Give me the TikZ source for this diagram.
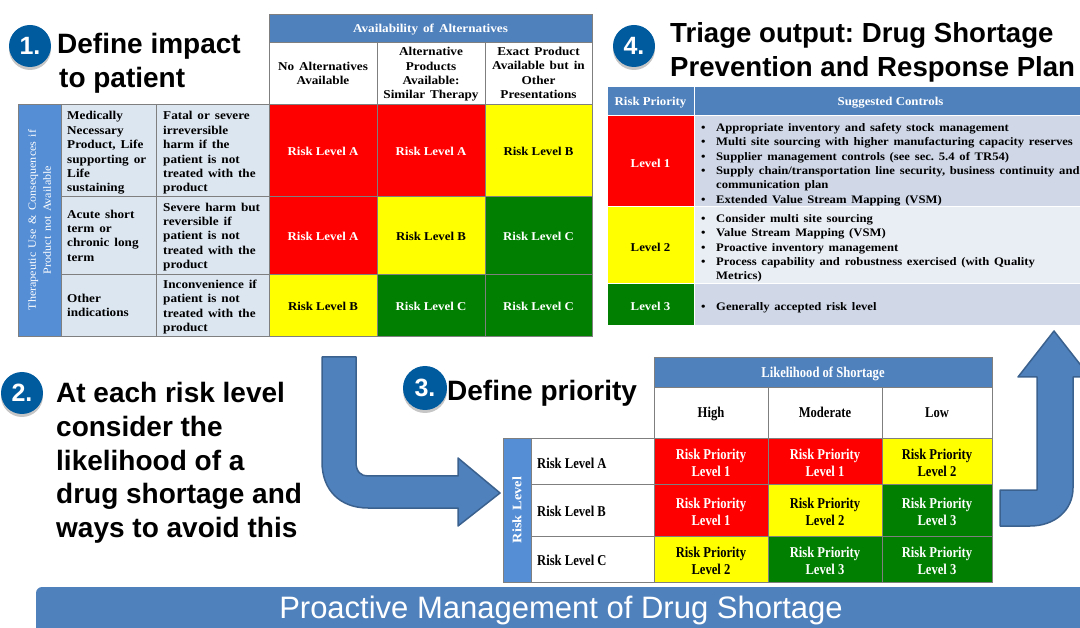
\documentclass[tikz,border=0pt]{standalone}
\usepackage{fontspec}
\setmainfont[WordSpace=1.5,FakeStretch=1.1]{Liberation Serif}
\setsansfont{Liberation Sans}
\newfontfamily\narrowserif[FakeStretch=0.84]{Liberation Serif}
\newfontfamily\tightserif[FakeStretch=1.07]{Liberation Serif}
\usetikzlibrary{shadows}
\frenchspacing

\definecolor{headblue}{HTML}{4F81BD}
\definecolor{sideblue}{HTML}{558ED5}
\definecolor{paleblue}{HTML}{DCE6F1}
\definecolor{rowdark}{HTML}{D0D8E8}
\definecolor{rowlight}{HTML}{E9EDF4}
\definecolor{riskred}{HTML}{FF0000}
\definecolor{riskyellow}{HTML}{FFFF00}
\definecolor{riskgreen}{HTML}{007F00}
\definecolor{badgeblue}{HTML}{005A9E}
\definecolor{gridgray}{HTML}{7F7F7F}

\newcommand{\bul}{\makebox[15pt][l]{\textbullet}}
\newcommand{\ind}{\hspace*{15pt}}

\tikzset{
  cellfont/.style={font=\fontsize{12}{14.4}\selectfont\bfseries, align=center, nodes={yshift=-1.5pt}},
  tightfont/.style={font=\fontsize{12}{14.4}\selectfont\tightserif\bfseries},
  gridcell/.style={draw=gridgray, line width=.8pt, cellfont},
  redcell/.style={gridcell, tightfont, fill=riskred, text=white},
  yellowcell/.style={gridcell, tightfont, fill=riskyellow, text=black},
  greencell/.style={gridcell, tightfont, fill=riskgreen, text=white},
  blankcell/.style={gridcell, fill=white},
  palecell/.style={gridcell, fill=paleblue},
  headcell/.style={gridcell, fill=headblue, text=white},
  sidecell/.style={gridcell, fill=sideblue, text=white},
  lefttext/.style={anchor=west, align=left, font=\fontsize{12}{14.4}\selectfont\bfseries, inner sep=0pt},
  ctrltext/.style={lefttext, font=\fontsize{11.5}{14.3}\selectfont\bfseries},
  plaincell/.style={draw=white, line width=1pt, cellfont, tightfont},
  narrowcell/.style={font=\fontsize{15}{17}\selectfont\narrowserif\bfseries},
  badge/.style={circle, fill=badgeblue, minimum size=42pt, inner sep=0pt, text=white,
    font=\fontsize{25}{25}\selectfont\sffamily\bfseries, drop shadow={shadow xshift=0pt, shadow yshift=-3pt, opacity=.45}},
  titletext/.style={anchor=west, align=left, inner sep=0pt, text=black,
    font=\fontsize{28}{33.7}\selectfont\sffamily\bfseries},
  blockarrow/.style={fill=headblue, draw=headblue!75!black, line width=1.5pt, line join=round}
}

\begin{document}
\begin{tikzpicture}[x=1pt,y=-1pt]

  \clip (0,0) rectangle (1080,628);

  % block arrows
  \draw[blockarrow](322,357)--(356,357)--(356,462) .. controls (356,472) and (361,476) .. (368,476)
    --(458,476)--(458,458)--(500,493)--(458,526)--(458,508)--(368,508)
    .. controls (340,508) and (322,490) .. (322,462)--cycle;
  \draw[blockarrow](1000,490)--(1037,490)--(1037,377)--(1018,377)--(1054,331)--(1090,377)--(1073,377)--(1073,488)
    .. controls (1073,510) and (1055,526) .. (1030,526)--(1000,526)--cycle;

  % banner
  \fill[headblue,rounded corners=6pt](36,587)--(1100,587)--(1100,640)--(36,640)--cycle;
  \node[text=white,font=\fontsize{31}{34}\selectfont\sffamily] (banner) at (561,610) {Proactive Management of Drug Shortage};

  % step 1
  \node[badge] (badgea) at (30,46) {1.};
  \node[titletext] (titlea) at (57,63) {Define impact\\\hspace*{2pt}to patient};

  \draw[headcell](269,14) rectangle node (availhead) {Availability of Alternatives} (592,42);
  \draw[blankcell](269,42) rectangle node[yshift=1pt] (availa) {No Alternatives\\Available} (377,104);
  \draw[blankcell](377,42) rectangle node (availb) {Alternative\\Products\\Available:\\Similar Therapy} (485,104);
  \draw[blankcell](485,42) rectangle node[yshift=1.5pt] (availc) {Exact Product\\Available but in\\Other\\Presentations} (592,104);

  \draw[sidecell](18,104) rectangle node[rotate=90,font=\fontsize{11}{15}\selectfont,xshift=1.5pt] (useside) {Therapeutic Use \& Consequences if\\Product not Available} (61,336);

  \draw[palecell](61,104) rectangle (156,196);
  \draw[palecell](61,196) rectangle (156,274);
  \draw[palecell](61,274) rectangle (156,336);
  \draw[palecell](156,104) rectangle (269,196);
  \draw[palecell](156,196) rectangle (269,274);
  \draw[palecell](156,274) rectangle (269,336);

  \node[lefttext] (usea) at (67,153) {Medically\\Necessary\\Product, Life\\supporting or\\Life\\sustaining};
  \node[lefttext] (useb) at (67,235.5) {Acute short\\term or\\chronic long\\term};
  \node[lefttext] (usec) at (67,305.5) {Other\\indications};
  \node[lefttext] (harma) at (163,153) {Fatal or severe\\irreversible\\harm if the\\patient is not\\treated with the\\product};
  \node[lefttext] (harmb) at (163,237) {Severe harm but\\reversible if\\patient is not\\treated with the\\product};
  \node[lefttext] (harmc) at (163,307) {Inconvenience if\\patient is not\\treated with the\\product};

  \draw[redcell](269,104) rectangle node (riskaa) {Risk Level A} (377,196);
  \draw[redcell](377,104) rectangle node (riskab) {Risk Level A} (485,196);
  \draw[yellowcell](485,104) rectangle node (riskac) {Risk Level B} (592,196);
  \draw[redcell](269,196) rectangle node (riskba) {Risk Level A} (377,274);
  \draw[yellowcell](377,196) rectangle node (riskbb) {Risk Level B} (485,274);
  \draw[greencell](485,196) rectangle node (riskbc) {Risk Level C} (592,274);
  \draw[yellowcell](269,274) rectangle node (riskca) {Risk Level B} (377,336);
  \draw[greencell](377,274) rectangle node (riskcb) {Risk Level C} (485,336);
  \draw[greencell](485,274) rectangle node (riskcc) {Risk Level C} (592,336);

  % step 2
  \node[badge] (badgeb) at (22,393) {2.};
  \node[titletext] (titleb) at (56,463) {At each risk level\\consider the\\likelihood of a\\drug shortage and\\ways to avoid this};

  % step 3
  \node[badge,minimum size=44pt] (badgec) at (425,388) {3.};
  \node[titletext] (titlec) at (447,393) {Define priority};

  \draw[headcell,narrowcell](654,357) rectangle node (likehead) {Likelihood of Shortage} (992,387);
  \draw[blankcell,narrowcell](654,387) rectangle node (likea) {\strut High} (768,438);
  \draw[blankcell,narrowcell](768,387) rectangle node (likeb) {\strut Moderate} (882,438);
  \draw[blankcell,narrowcell](882,387) rectangle node (likec) {\strut Low} (992,438);

  \draw[sidecell](503,438) rectangle node[rotate=90,font=\fontsize{13}{14}\selectfont\bfseries,xshift=1.5pt] (levelside) {Risk Level} (531,582);
  \draw[blankcell](531,438) rectangle (654,484);
  \draw[blankcell](531,484) rectangle (654,536);
  \draw[blankcell](531,536) rectangle (654,582);
  \node[lefttext,narrowcell] (levela) at (537,463) {Risk Level A};
  \node[lefttext,narrowcell] (levelb) at (537,511) {Risk Level B};
  \node[lefttext,narrowcell] (levelc) at (537,560) {Risk Level C};

  \draw[redcell,narrowcell](654,438) rectangle node (prioaa) {Risk Priority\\Level 1} (768,484);
  \draw[redcell,narrowcell](768,438) rectangle node (prioab) {Risk Priority\\Level 1} (882,484);
  \draw[yellowcell,narrowcell](882,438) rectangle node (prioac) {Risk Priority\\Level 2} (992,484);
  \draw[redcell,narrowcell](654,484) rectangle node (prioba) {Risk Priority\\Level 1} (768,536);
  \draw[yellowcell,narrowcell](768,484) rectangle node (priobb) {Risk Priority\\Level 2} (882,536);
  \draw[greencell,narrowcell](882,484) rectangle node (priobc) {Risk Priority\\Level 3} (992,536);
  \draw[yellowcell,narrowcell](654,536) rectangle node (prioca) {Risk Priority\\Level 2} (768,582);
  \draw[greencell,narrowcell](768,536) rectangle node (priocb) {Risk Priority\\Level 3} (882,582);
  \draw[greencell,narrowcell](882,536) rectangle node (priocc) {Risk Priority\\Level 3} (992,582);

  % step 4
  \node[badge] (badged) at (634,46) {4.};
  \node[titletext,font=\fontsize{27.6}{33.7}\selectfont\sffamily\bfseries] (titled) at (670,52.5) {Triage output: Drug Shortage\\Prevention and Response Plan};

  \draw[plaincell,fill=headblue,text=white](607,87) rectangle node (priohead) {Risk Priority} (694,116);
  \draw[plaincell,fill=headblue,text=white](694,87) rectangle node[xshift=-4pt] (ctrlhead) {Suggested Controls} (1095,116);
  \draw[plaincell,fill=riskred,text=white](607,116) rectangle node (planl) {Level 1} (694,207);
  \draw[plaincell,fill=riskyellow](607,207) rectangle node (planm) {Level 2} (694,284);
  \draw[plaincell,fill=riskgreen,text=white](607,284) rectangle node (plann) {Level 3} (694,326);
  \draw[plaincell,fill=rowdark](694,116) rectangle (1095,207);
  \draw[plaincell,fill=rowlight](694,207) rectangle (1095,284);
  \draw[plaincell,fill=rowdark](694,284) rectangle (1095,326);

  \node[ctrltext] (ctrla) at (701,164.5) {\bul Appropriate inventory and safety stock management\\
    \bul Multi site sourcing with higher manufacturing capacity reserves\\
    \bul Supplier management controls (see sec. 5.4 of TR54)\\
    \bul Supply chain/transportation line security, business continuity and\\
    \ind communication plan\\
    \bul Extended Value Stream Mapping (VSM)};
  \node[ctrltext] (ctrlb) at (701,248.5) {\bul Consider multi site sourcing\\
    \bul Value Stream Mapping (VSM)\\
    \bul Proactive inventory management\\
    \bul Process capability and robustness exercised (with Quality\\
    \ind Metrics)};
  \node[ctrltext] (ctrlc) at (701,308) {\bul Generally accepted risk level};

\end{tikzpicture}
\end{document}
